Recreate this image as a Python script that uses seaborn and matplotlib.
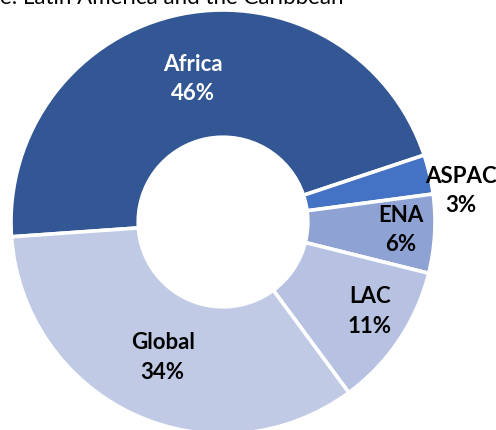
import numpy as np
import seaborn as sns
import matplotlib.pyplot as plt

# Share of funding by region (%)
regions = ["Africa", "ASPAC", "ENA", "LAC", "Global"]
shares = [46, 3, 6, 11, 34]
colors = ["#335694", "#4472C4", "#8FA2D4", "#B7C1E2", "#C1CAE5"]

sns.set_theme(style="white")
plt.rcParams["font.family"] = ["Lato", "DejaVu Sans"]

fig = plt.figure(figsize=(4.96, 4.30), dpi=100)
ax = fig.add_axes([0, 0, 1, 1])

wedges, _ = ax.pie(shares, colors=colors, startangle=184, counterclock=False,
                   radius=1.0, wedgeprops=dict(width=0.6, edgecolor="white", linewidth=2.6))

# donut centre at (223, 222) px, outer radius 212 px
scale = 212.0
cx, cy = 223.0, 222.0
ax.set_xlim(-cx / scale, (496 - cx) / scale)
ax.set_ylim(-(430 - cy) / scale, cy / scale)
ax.set_aspect("auto")
ax.axis("off")

# label radius and angle nudge per wedge
label_r = [0.69, 1.13, 0.84, 0.81, 0.70]
label_da = [0.6, -5.6, 0.6, 2.4, 0.8]
label_color = ["white", "black", "black", "black", "black"]

for w, name, v, r, da, c in zip(wedges, regions, shares, label_r, label_da, label_color):
    ang = np.deg2rad((w.theta1 + w.theta2) / 2 + da)
    ax.text(r * np.cos(ang), r * np.sin(ang), f"{name}\n{v}%", ha="center", va="center",
            fontsize=16, fontweight="bold", color=c, linespacing=1.5)

fig.text(0 / 496, 1 - 4 / 430, "e: Latin America and the Caribbean", ha="left", va="baseline",
         fontsize=16, color="black")

fig.savefig("out.png", dpi=100)
